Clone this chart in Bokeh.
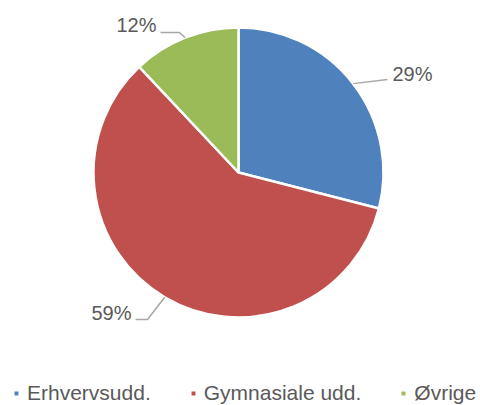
import math
from bokeh.plotting import figure
from bokeh.models import Range1d, Legend, LegendItem
from bokeh.core.properties import value
from bokeh.embed import file_html
from bokeh.resources import INLINE

# ---- data ----
categories = ["Erhvervsudd.", "Gymnasiale udd.", "Øvrige"]
shares = [29, 59, 12]
colors = ["#4F81BD", "#C0504D", "#9BBB59"]
labels = ["29%", "59%", "12%"]

W, H = 480, 405
p = figure(width=W, height=H, output_backend="svg", toolbar_location=None,
           x_axis_type=None, y_axis_type=None, min_border=0,
           x_range=Range1d(0, W), y_range=Range1d(0, H))
p.outline_line_color = None
p.grid.visible = False

cx, cy, r = 238, H - 172, 145
total = sum(shares)
starts, ends, mids = [], [], []
cum = 0
for s in shares:
    a0 = math.pi / 2 - 2 * math.pi * cum / total
    cum += s
    a1 = math.pi / 2 - 2 * math.pi * cum / total
    starts.append(a1)
    ends.append(a0)
    mids.append((a0 + a1) / 2)

renderers = []
for i in range(len(categories)):
    rr = p.wedge(x=cx, y=cy, radius=r, start_angle=starts[i], end_angle=ends[i],
                 fill_color=colors[i], line_color="white", line_width=2.5)
    renderers.append(rr)

def cy_(yc):
    return H - yc

styles = [
    ([(387, 79)], 392, 73, "left"),
    ([(147, 319), (135, 319)], 131, 312, "right"),
    ([(179, 32), (160, 32)], 156, 24, "right"),
]
for i, (pts, tx, ty, align) in enumerate(styles):
    ex = cx + r * math.cos(mids[i])
    ey = cy + r * math.sin(mids[i])
    xs = [ex] + [q[0] for q in pts]
    ys = [ey] + [cy_(q[1]) for q in pts]
    p.line(xs, ys, line_color="#A6A6A6", line_width=1.5)
    p.text(x=[tx], y=[cy_(ty)], text=[labels[i]], text_align=align,
           text_baseline="middle", text_font=value("Liberation Sans"),
           text_font_size="20px", text_color="#595959")

legend = Legend(items=[LegendItem(label=categories[i], renderers=[renderers[i]])
                       for i in range(len(categories))],
                orientation="horizontal", location=(12, 0),
                glyph_width=8, glyph_height=8, label_standoff=7, spacing=38,
                label_text_font="Liberation Sans", label_text_font_size="21px",
                label_text_color="#595959", border_line_color=None,
                background_fill_alpha=0, padding=0, margin=0)
p.add_layout(legend)

open("out.html", "w").write(file_html(p, INLINE))
